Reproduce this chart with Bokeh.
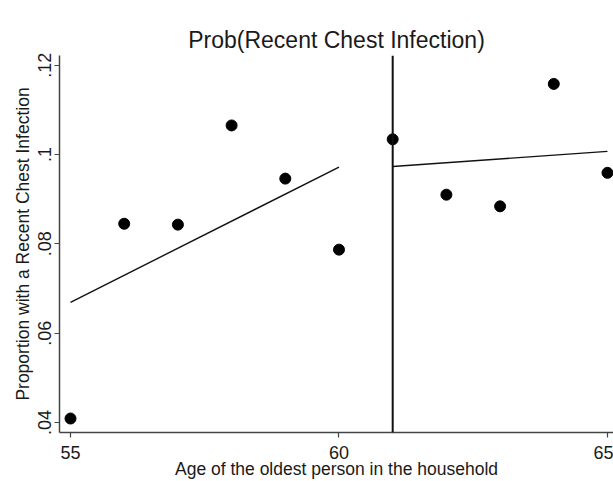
from bokeh.plotting import figure
from bokeh.models import FixedTicker, Span, Range1d
from bokeh.embed import file_html
from bokeh.resources import INLINE

# Data
ages = [55, 56, 57, 58, 59, 60, 61, 62, 63, 64, 65]
proportions = [0.0409, 0.0845, 0.0843, 0.1065, 0.0946, 0.0787,
               0.1034, 0.0910, 0.0884, 0.1158, 0.0959]

left_fit_x = [55, 60]
left_fit_y = [0.0669, 0.0972]
right_fit_x = [61, 65]
right_fit_y = [0.0973, 0.1007]

cutoff = 61

x_ticks = [55, 60, 65]
y_ticks = [0.04, 0.06, 0.08, 0.10, 0.12]
y_tick_labels = {0.04: ".04", 0.06: ".06", 0.08: ".08", 0.1: ".1", 0.12: ".12"}

FONT = "Liberation Sans"
TXT = "#1a1a1a"

p = figure(width=613, height=481, output_backend="svg", toolbar_location=None,
           x_range=Range1d(54.795, 65.112), y_range=Range1d(0.03777, 0.12216),
           min_border_left=59, min_border_right=0, min_border_top=55,
           min_border_bottom=49)

p.title.text = "Prob(Recent Chest Infection)"
p.title.text_font = FONT
p.title.text_font_size = "23px"
p.title.text_font_style = "normal"
p.title.text_color = TXT
p.title.align = "center"
p.title.standoff = 6

p.outline_line_color = None
p.xgrid.visible = False
p.ygrid.visible = False
p.background_fill_color = "white"
p.border_fill_color = "white"

for ax in (p.xaxis[0], p.yaxis[0]):
    ax.axis_line_color = "#444444"
    ax.axis_line_width = 1.5
    ax.major_tick_line_color = "#444444"
    ax.major_tick_line_width = 1.2
    ax.major_tick_out = 5
    ax.major_tick_in = 0
    ax.minor_tick_line_color = None
    ax.major_label_text_font = FONT
    ax.major_label_text_font_size = "18px"
    ax.major_label_text_color = TXT
    ax.axis_label_text_font = FONT
    ax.axis_label_text_font_size = "17.5px"
    ax.axis_label_text_font_style = "normal"
    ax.axis_label_text_color = TXT

p.xaxis.ticker = FixedTicker(ticks=x_ticks)
p.xaxis.axis_label = "Age of the oldest person in the household"
p.xaxis.major_label_standoff = 8
p.xaxis.axis_label_standoff = -3

p.yaxis.ticker = FixedTicker(ticks=y_ticks)
p.yaxis.major_label_overrides = y_tick_labels
p.yaxis.major_label_orientation = "vertical"
p.yaxis.axis_label = "Proportion with a Recent Chest Infection"
p.yaxis.major_label_standoff = 3
p.yaxis.axis_label_standoff = 3

p.line(left_fit_x, left_fit_y, line_color="#111111", line_width=1.4)
p.line(right_fit_x, right_fit_y, line_color="#111111", line_width=1.4)
p.add_layout(Span(location=cutoff, dimension="height", line_color="#111111", line_width=2))
p.scatter(ages, proportions, size=11, color="black")

open("out.html", "w").write(file_html(p, INLINE))
